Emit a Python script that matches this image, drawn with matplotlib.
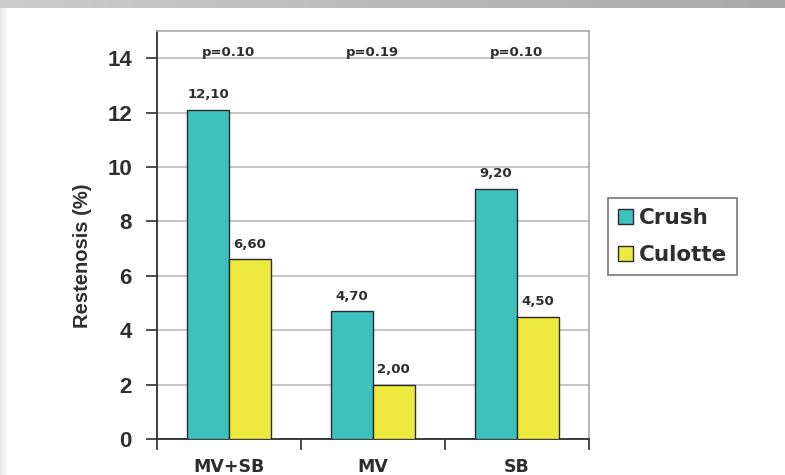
import numpy as np
import matplotlib.pyplot as plt

categories = ["MV+SB", "MV", "SB"]
crush = [12.10, 4.70, 9.20]
culotte = [6.60, 2.00, 4.50]
p_values = ["p=0.10", "p=0.19", "p=0.10"]

plt.rcParams['font.family'] = ['Liberation Sans', 'DejaVu Sans']
arial = ['Liberation Sans']
wide = ['DejaVu Sans']
ink = "#2e2e2e"

fig = plt.figure(figsize=(7.85, 4.75), dpi=100)

# page frame: grey band on top, soft shade on the left
bg = fig.add_axes([0, 0, 1, 1], zorder=-5)
bg.set_xlim(0, 785)
bg.set_ylim(475, 0)
bg.axis("off")
top = np.linspace(0.80, 0.66, 200).reshape(1, -1)
bg.imshow(np.dstack([top, top, top]), extent=(0, 785, 8, 0), aspect="auto")
left = np.linspace(0.90, 1.0, 20).reshape(1, -1)
bg.imshow(np.dstack([left, left, left]), extent=(0, 9, 475, 8), aspect="auto")

ax = fig.add_axes([0.2, 0.0758, 0.55, 0.859])
x = np.arange(len(categories))
w = 0.29
b1 = ax.bar(x - w / 2, crush, w, color="#3ec0bd", edgecolor="#2a2a2a", linewidth=1.0, label="Crush", zorder=3)
b2 = ax.bar(x + w / 2, culotte, w, color="#ede93d", edgecolor="#2a2a2a", linewidth=1.0, label="Culotte", zorder=3)

for bars, vals in ((b1, crush), (b2, culotte)):
    for r, v in zip(bars, vals):
        ax.text(r.get_x() + r.get_width() / 2, v + 0.55, f"{v:.2f}".replace(".", ","),
                ha="center", va="center", fontsize=9.5, fontweight="bold", color=ink, family=wide)

for xi, p in zip(x, p_values):
    ax.text(xi, 14.22, p, ha="center", va="center", fontsize=9.5, fontweight="bold", color=ink, family=wide)

ax.set_xlim(-0.5, 2.5)
ax.set_ylim(0, 15)
ax.set_yticks(range(0, 15, 2))
ax.set_xticks(x)
ax.set_xticklabels(categories, fontsize=12.5, fontweight="bold", color=ink, family=wide)
ax.set_xticks([-0.5, 0.5, 1.5, 2.5], minor=True)
ax.tick_params(axis="x", which="major", length=0, pad=14)
ax.tick_params(axis="x", which="minor", length=8, width=1.2, color=ink)
ax.tick_params(axis="y", length=8, width=1.2, color=ink, pad=10)
ax.set_yticklabels([str(v) for v in range(0, 15, 2)], fontsize=16, fontweight="bold",
                   color=ink, family=arial)
ax.set_ylabel("Restenosis (%)", fontsize=14.5, fontweight="bold", color=ink, family=arial)
ax.yaxis.set_label_coords(-0.150, 0.449)

ax.grid(axis="y", color="#bbbbbb", linewidth=1.2, zorder=0)
ax.set_axisbelow(True)
ax.spines["left"].set_color(ink)
ax.spines["bottom"].set_color(ink)
ax.spines["left"].set_linewidth(1.3)
ax.spines["bottom"].set_linewidth(1.3)
ax.spines["top"].set_color("#aaaaaa")
ax.spines["right"].set_color("#aaaaaa")
ax.spines["top"].set_linewidth(1.2)
ax.spines["right"].set_linewidth(1.2)

leg = fig.legend(loc="upper left", bbox_to_anchor=(608 / 785, 1 - 198 / 475),
                 prop={"size": 15.5, "weight": "bold", "family": wide}, frameon=True, fancybox=False,
                 handlelength=0.7, handleheight=0.7, handletextpad=0.3,
                 borderpad=0.45, labelspacing=0.8, borderaxespad=0)
leg.get_frame().set_edgecolor("#555555")
leg.get_frame().set_linewidth(1.2)
for t in leg.get_texts():
    t.set_color(ink)

fig.savefig("out.png", dpi=100)
